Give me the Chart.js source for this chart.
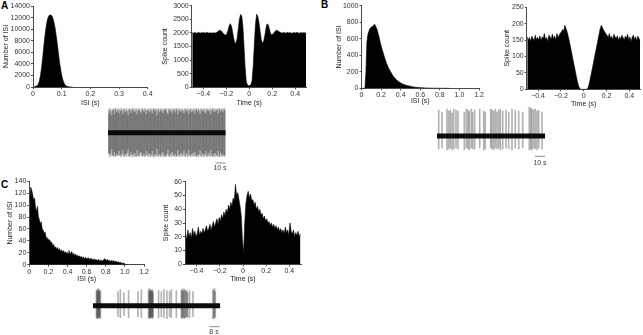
<!DOCTYPE html>
<html><head><meta charset="utf-8">
<script src="https://cdn.jsdelivr.net/npm/chart.js@4.4.1/dist/chart.umd.min.js"></script>
<style>
html,body{margin:0;padding:0;background:#fff;}
body{width:643px;height:335px;position:relative;overflow:hidden;font-family:"Liberation Sans",Arial,sans-serif;}
canvas{position:absolute;left:0;top:0;}
.t{position:absolute;font-size:7px;color:#333;white-space:nowrap;line-height:8px;width:20px;text-align:center;opacity:0.99;will-change:opacity;}
.lab{position:absolute;font-weight:bold;font-size:10px;color:#000;line-height:1;}
</style></head><body>
<div class="lab" style="left:1px;top:1px">A</div>
<div class="lab" style="left:321px;top:0px">B</div>
<div class="lab" style="left:1px;top:180px">C</div>
<div class="t" style="left:210px;top:164px">10 s</div>
<div class="t" style="left:530px;top:159px">10 s</div>
<div class="t" style="left:204px;top:328px">8 s</div>
<script>
// ---------------- DATA ----------------
// Panel A: ISI histogram (bin width 0.004 s, starting at 0)
const isiA_bin = 0.004;
const isiA_counts = [0,60,120,220,450,1000,2000,3400,5200,7200,9000,10500,11600,12200,12450,12450,12300,11800,11000,9900,8500,6900,5300,3800,2600,1600,950,520,260,120,60,30,10,0,0];
const isiA_xTicks = [0,0.1,0.2,0.3,0.4];
const isiA_yTicks = [0,2000,4000,6000,8000,10000,12000,14000];

// Panel A: autocorrelogram (bin 0.01 s, from -0.5)
const acA_bin = 0.01;
const acA_counts = [2010,1990,2020,2000,1985,2015,2005,1995,2010,2000,2020,1990,2005,2015,1995,2000,2010,1990,2005,2000,2000,2015,
 2040,2080,2100,2080,2030,1980,1940,1920,1950,2080,2250,2340,2260,2050,1800,1640,1620,1800,2150,2500,2680,2620,2250,1500,700,200,80,60,
 70,90,250,800,1600,2350,2690,2600,2380,2050,1750,1620,1680,1880,2150,2330,2300,2150,1980,1930,1950,2000,2060,2100,2090,2060,2030,2010,1995,2005,
 2015,1990,2005,2020,1995,2010,2000,1985,2015,2005,1995,2020,2000,1990,2010,2005,1995,2015,2000,1990];
const acA_yTicks = [0,500,1000,1500,2000,2500,3000];

// Panel B: ISI histogram (bin 0.01 s)
const isiB_bin = 0.01;
const isiB_counts = [0,0,0,0,200,560,650,690,720,735,
 745,750,765,775,750,725,690,640,590,540,
 495,455,415,375,340,305,275,250,225,205,
 185,165,145,130,118,105,95,85,77,70,
 62,56,50,45,41,37,34,31,28,25,
 22,20,18,16,14,13,12,11,10,9,
 8,7,6,6,5,5,4,4,3,3,
 3,2,2,2,2,1,1,1,1,1,
 1,0,1,0,0,1,0,0,0,0];
const isiB_yTicks = [0,200,400,600,800,1000];

// Panel B: autocorrelogram (bin 0.01 s, from -0.5)
const acB_bin = 0.01;
const acB_counts = [160,150,158,145,162,155,148,165,152,158,150,163,147,160,155,170,150,158,145,165,160,152,168,155,162,150,170,158,165,172,
 175,182,178,195,185,175,160,145,128,110,92,75,58,40,24,10,3,0,0,0,
 0,0,0,3,12,28,45,62,80,98,115,132,150,168,185,195,188,180,175,168,
 165,158,170,155,162,150,168,160,155,163,148,160,152,165,158,150,162,155,168,150,160,145,158,165,152,160,148,162,155,150];
const acB_yTicks = [0,50,100,150,200,250];

// Panel C: ISI histogram (bin 0.01 s)
const isiC_bin = 0.01;
const isiC_counts = [110,130,125,118,108,112,96,90,98,80,
 76,68,72,60,58,52,55,46,42,44,
 40,42,36,38,32,34,28,30,26,29,
 24,27,22,25,21,24,20,22,18,21,
 19,24,17,20,22,16,19,15,18,14,
 16,13,15,12,14,11,13,10,12,11,
 9,12,10,8,11,9,8,10,7,9,
 8,7,9,6,8,7,6,8,10,9,
 7,9,6,8,5,7,6,5,7,4,
 6,5,4,5,3,4,3,2,3,2,
 0,0,0];
const isiC_yTicks = [0,20,40,60,80,100,120,140];

// Panel C: autocorrelogram (bin 0.01 s, from -0.5)
const acC_bin = 0.01;
const acC_counts = [22,18,25,20,23,19,26,21,24,20,
 22,27,21,24,22,26,23,25,28,24,
 26,29,25,28,31,27,30,33,29,34,
 31,36,33,38,35,40,37,43,40,45,
 42,48,46,58,50,52,47,42,35,18,
 8,30,44,50,53,48,51,46,47,43,
 45,40,42,38,40,36,37,33,35,31,
 33,30,31,28,30,27,29,26,28,25,
 27,24,26,23,25,22,27,23,25,21,
 30,24,22,25,20,23,21,24,20,22];
const acC_yTicks = [0,10,20,30,40,50,60];

const isiBC_xTicks = [0,0.2,0.4,0.6,0.8,1.0,1.2];
const ac_xTicks = [-0.4,-0.2,0,0.2,0.4];

// Raw traces: spike times (s) and peak / trough amplitudes (arbitrary units)
const spikeA_t = [0.4,1.1,1.9,2.5,3.4,4.0,4.9,5.6,6.3,7.1,
 7.8,8.6,9.2,10.1,10.8,11.5,12.4,13.0,13.9,14.6,
 15.3,16.1,16.9,17.6,18.4,19.1,19.9,20.5,21.4,22.1,
 22.8,23.7,24.3,25.2,25.9,26.6,27.5,28.1,29.0,29.7,
 30.5,31.2,32.0,32.8,33.5,34.3,35.0,35.9,36.5,37.4,
 38.1,38.8,39.7,40.3,41.2,41.9,42.6,43.5,44.1,45.0,
 45.7,46.5,47.2,48.0,48.8,49.5,50.3,51.0,51.9,52.5,
 53.4,54.1,54.8,55.7,56.3,57.2,57.9,58.6,59.5,60.1,
 61.0,61.7,62.5,63.2,64.0,64.8,65.5,66.3,67.0,67.9,
 68.5,69.4,70.1,70.8,71.7,72.3,73.2,73.9,74.6,75.5,
 76.1,77.0,77.7,78.5,79.2,80.0,80.8,81.5,82.3,83.0,
 83.9,84.5,85.4,86.1,86.8,87.7,88.3,89.2,89.9,90.6,
 91.5,92.1,93.0,93.7,94.5,95.2,96.0,96.8,97.5,98.3,
 99.0,99.9,100.5,101.4,102.1,102.8,103.7,104.3,105.2,105.9,
 106.6,107.5,108.1,109.0,109.7,110.5,111.2,112.0,112.8,113.5,
 114.3,115.0,115.9,116.5];
const spikeA_hi = [23,19,24,21,17,23,22,24,18,23,
 24,20,22,24,19,23,21,24,22,18,
 23,24,20,22,24,21,17,23,24,22,
 19,24,23,21,24,20,22,24,18,23,
 22,24,21,19,23,24,22,20,24,23,
 18,22,24,21,23,20,24,22,19,24,
 23,21,24,22,17,23,24,20,22,24,
 21,23,19,24,22,23,24,20,18,23,
 24,22,21,24,19,23,22,24,20,23,
 24,18,22,24,21,23,20,24,22,19,
 23,24,21,22,24,18,23,22,24,20,
 23,21,24,19,22,24,23,20,24,22,
 18,23,24,21,22,24,20,23,19,24,
 22,23,21,24,18,22,24,23,20,24,
 21,23,22,24,19,23,24,21,22,24,
 20,23,24,22];
const spikeA_lo = [-22,-20,-24,-21,-16,-23,-22,-24,-19,-23,
 -24,-21,-22,-23,-18,-23,-22,-24,-21,-17,
 -23,-24,-21,-22,-24,-20,-16,-23,-24,-22,
 -19,-24,-22,-21,-24,-20,-23,-24,-17,-23,
 -22,-24,-20,-19,-23,-24,-22,-21,-24,-23,
 -18,-22,-24,-20,-23,-21,-24,-22,-18,-24,
 -23,-21,-24,-22,-16,-23,-24,-21,-22,-24,
 -20,-23,-19,-24,-22,-23,-24,-21,-17,-23,
 -24,-22,-20,-24,-19,-23,-22,-24,-21,-23,
 -24,-17,-22,-24,-21,-23,-20,-24,-22,-18,
 -23,-24,-20,-22,-24,-17,-23,-22,-24,-21,
 -23,-20,-24,-19,-22,-24,-23,-21,-24,-22,
 -17,-23,-24,-20,-22,-24,-21,-23,-18,-24,
 -22,-23,-20,-24,-17,-22,-24,-23,-21,-24,
 -20,-23,-22,-24,-18,-23,-24,-20,-22,-24,
 -21,-23,-24,-22];

const spikeB_t = [1.7,5.0,10.0,11.7,13.3,15.0,16.7,19.0,21.0,27.3,29.3,31.0,32.3,34.3,35.7,37.7,42.7,46.7,48.3,53.7,55.0,56.7,58.3,60.0,61.7,63.3,65.7,69.0,71.7,75.0,78.3,81.7,85.7,92.3,93.7,95.0,96.7,98.3,100.0,101.7,105.0];
const spikeB_hi = [26,24,27,25,26,23,27,26,25,24,27,26,25,27,24,26,27,25,24,27,26,25,27,24,26,27,25,26,24,27,26,25,24,29,28,27,26,27,25,26,24];
const spikeB_lo = [-13,-12,-14,-13,-12,-14,-13,-12,-13,-14,-12,-13,-14,-12,-13,-13,-12,-14,-13,-12,-13,-14,-12,-13,-12,-14,-13,-12,-13,-14,-12,-13,-12,-14,-13,-14,-12,-13,-14,-12,-13];

const spikeC_t = [2.7,3.2,3.6,4.1,4.5,5.0,5.4,6.0,20.0,21.9,24.8,28.5,36.0,38.7,44.5,45.0,45.4,45.9,46.3,46.8,47.2,47.7,48.1,52.5,54.7,56.8,59.2,61.3,62.7,66.7,70.7,71.2,71.8,72.4,73.0,73.7,74.4,75.1,75.8,77.3,80.0,96.0,96.6,97.3,97.9];
const spikeC_hi = [15,16,14,17,15,16,14,15,14,16,13,15,14,16,15,17,14,16,15,14,16,15,13,15,14,16,15,14,16,15,15,16,14,17,15,16,14,15,13,15,14,16,15,17,14];
const spikeC_lo = [-12,-13,-11,-13,-12,-11,-13,-12,-11,-12,-10,-12,-11,-12,-13,-12,-11,-13,-12,-11,-12,-13,-11,-12,-11,-12,-13,-11,-12,-12,-12,-13,-11,-12,-13,-12,-11,-12,-11,-12,-11,-13,-12,-13,-11];

// ---------------- RENDERING ----------------
const W = 643, H = 335;
const FONT = '"Liberation Sans", Arial, sans-serif';
Chart.defaults.font.family = FONT;

function mk(){
  const c = document.createElement('canvas');
  c.width = W; c.height = H;
  c.style.width = W + 'px'; c.style.height = H + 'px';
  document.body.appendChild(c);
  return c;
}
function fmtX(v){
  if (Math.abs(v) < 1e-9) return '0';
  return (v < 0 ? '\u2212' : '') + Math.abs(v).toFixed(1);
}
const AX = '#4a4a4a';

function hist(r, xMin, xMax, xTicks, yTicks, xTitle, yTitle, start, bin, counts){
  const pts = counts.map((c, i) => ({x: start + (i + 0.5) * bin, y: c}));
  new Chart(mk(), {
    type: 'line',
    data: {datasets: [{data: pts, borderColor: '#000', backgroundColor: '#000', borderWidth: 0.6,
      pointRadius: 0, fill: 'origin', tension: 0}]},
    options: {
      responsive: false, devicePixelRatio: 1, animation: false, events: [],
      layout: {padding: {left: r.L - r.yw, top: r.T, right: W - r.R, bottom: H - r.B - r.xh}},
      plugins: {legend: {display: false}, tooltip: {enabled: false}},
      scales: {
        x: {type: 'linear', min: xMin, max: xMax, offset: false,
          afterBuildTicks: s => { s.ticks = xTicks.map(v => ({value: v})); },
          afterFit: s => { s.height = r.xh; },
          ticks: {callback: v => fmtX(v), font: {size: 7}, color: '#333', padding: 1, maxRotation: 0, autoSkip: false},
          grid: {drawOnChartArea: false, tickLength: 2, color: AX, lineWidth: 1},
          border: {color: AX, width: 1},
          title: {display: true, text: xTitle, font: {size: 7}, color: '#222', padding: 0}},
        y: {type: 'linear', min: 0, max: yTicks[yTicks.length - 1],
          afterBuildTicks: s => { s.ticks = yTicks.map(v => ({value: v})); },
          afterFit: s => { s.width = r.yw; },
          ticks: {callback: v => String(v), font: {size: 7}, color: '#333', padding: 1, autoSkip: false},
          grid: {drawOnChartArea: false, tickLength: 2, color: AX, lineWidth: 1},
          border: {color: AX, width: 1},
          title: {display: true, text: yTitle, font: {size: 7}, color: '#222', padding: 0}}
      }
    }
  });
}

function trace(r, xMax, yMin, yMax, times, hi, lo, bar){
  const n = Math.min(times.length, hi.length, lo.length);
  const spikes = [];
  for (let i = 0; i < n; i++) spikes.push({x: times[i], y: [lo[i], hi[i]]});
  new Chart(mk(), {
    type: 'bar',
    data: {datasets: [
      {type: 'line', data: [{x: 0, y: 0}, {x: xMax, y: 0}], borderColor: '#0b0b0b', borderWidth: 5, pointRadius: 0, order: 0},
      {type: 'line', data: [{x: bar[0], y: bar[2]}, {x: bar[1], y: bar[2]}], borderColor: '#8a8a8a', borderWidth: 1, pointRadius: 0, order: 0},
      {type: 'bar', data: spikes, backgroundColor: 'rgba(0,0,0,0.30)', barThickness: 1, borderWidth: 0, order: 1}
    ]},
    options: {
      responsive: false, devicePixelRatio: 1, animation: false, events: [],
      layout: {padding: {left: r.L, top: r.T, right: W - r.R, bottom: H - r.B}},
      plugins: {legend: {display: false}, tooltip: {enabled: false}},
      scales: {
        x: {type: 'linear', display: false, min: 0, max: xMax, offset: false},
        y: {type: 'linear', display: false, min: yMin, max: yMax}
      }
    }
  });
}

// Panel A
hist({L: 33, R: 147.7, T: 6, B: 87, yw: 31.2, xh: 20.5}, 0, 0.4, isiA_xTicks, isiA_yTicks,
  'ISI (s)', 'Number of ISI', 0, isiA_bin, isiA_counts);
hist({L: 191.7, R: 306.7, T: 5.7, B: 87.3, yw: 30.9, xh: 19.6}, -0.5, 0.5, ac_xTicks, acA_yTicks,
  'Time (s)', 'Spike count', -0.5, acA_bin, acA_counts);
trace({L: 108, R: 225.7, T: 100, B: 170}, 117, -37.3, 32.7, spikeA_t, spikeA_hi, spikeA_lo, [107, 117, -30.3]);

// Panel B
hist({L: 361.5, R: 479, T: 5.7, B: 88.3, yw: 26.7, xh: 16.6}, 0, 1.2, isiBC_xTicks, isiB_yTicks,
  'ISI (s)', 'Number of ISI', 0, isiB_bin, isiB_counts);
hist({L: 526.7, R: 640.7, T: 7.3, B: 89.3, yw: 23.6, xh: 19.2}, -0.5, 0.5, ac_xTicks, acB_yTicks,
  'Time (s)', 'Spike count', -0.5, acB_bin, acB_counts);
trace({L: 437, R: 545.3, T: 100, B: 170}, 108.3, -34, 36, spikeB_t, spikeB_hi, spikeB_lo, [98, 108, -20.3]);

// Panel C
hist({L: 29.3, R: 144, T: 181.3, B: 264.7, yw: 23.5, xh: 18.2}, 0, 1.2, isiBC_xTicks, isiC_yTicks,
  'ISI (s)', 'Number of ISI', 0, isiC_bin, isiC_counts);
hist({L: 185, R: 301, T: 181.7, B: 264.3, yw: 23.5, xh: 19.2}, -0.5, 0.5, ac_xTicks, acC_yTicks,
  'Time (s)', 'Spike count', -0.5, acC_bin, acC_counts);
trace({L: 93, R: 220.3, T: 282, B: 335}, 101.9, -29.3, 23.7, spikeC_t, spikeC_hi, spikeC_lo, [93.4, 101.4, -21]);
</script>
</body></html>
